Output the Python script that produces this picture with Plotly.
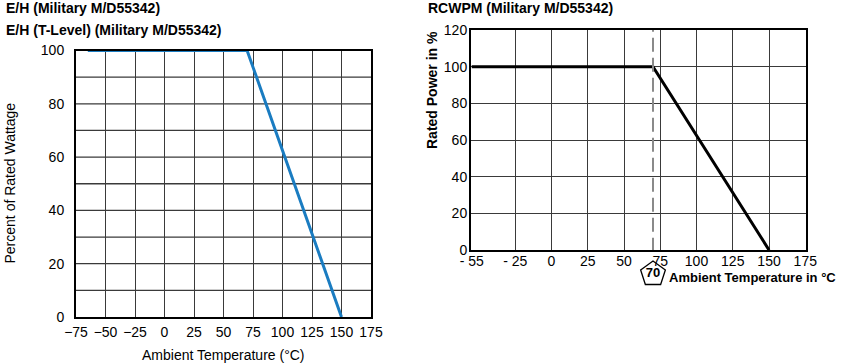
import plotly.graph_objects as go

# ---- data ----
eh_temp = [-65, 70, 150]
eh_pct = [100, 100, 0]
eh_xticks = [-75, -50, -25, 0, 25, 50, 75, 100, 125, 150, 175]
eh_yticks = [0, 20, 40, 60, 80, 100]

rc_temp = [-55, 70, 150]
rc_pct = [100, 100, 0]
rc_xticks = [-55, -25, 0, 25, 50, 75, 100, 125, 150, 175]
rc_xticktext = ["- 55", "- 25", "0", "25", "50", "75", "100", "125", "150", "175"]
rc_yticks = [0, 20, 40, 60, 80, 100, 120]
rc_knee = 70

W, H = 845, 363
FONT = "Liberation Sans, Arial, sans-serif"
RC_RANGE = [-55.5, 175.5]
RC_DOMAIN = [471 / W, 806 / W]


def px(x):
    return x / W


def py(y):
    return 1 - y / H


fig = go.Figure()

fig.add_trace(go.Scatter(x=eh_temp, y=eh_pct, mode="lines",
                         line=dict(color="#1a7cc1", width=3),
                         xaxis="x", yaxis="y", showlegend=False))

fig.add_trace(go.Scatter(x=rc_temp, y=rc_pct, mode="lines",
                         line=dict(color="black", width=3),
                         xaxis="x2", yaxis="y2", showlegend=False))

# pentagon marker for the 70 °C knee (on a hidden strip below the right chart)
fig.add_trace(go.Scatter(x=[rc_knee], y=[0.5], mode="markers+text",
                         marker=dict(symbol="pentagon-open", size=26,
                                     line=dict(color="black", width=1.3), color="black"),
                         text=[f"<b>{rc_knee}</b>"], textposition="middle center",
                         textfont=dict(size=13, color="black", family=FONT),
                         cliponaxis=False,
                         xaxis="x3", yaxis="y3", showlegend=False))

grid = "#3a3a3a"

fig.update_layout(
    width=W, height=H,
    margin=dict(l=0, r=0, t=0, b=0),
    paper_bgcolor="white", plot_bgcolor="white",
    font=dict(family=FONT, size=14, color="black"),
    xaxis=dict(domain=[px(76), px(371)], range=[-75, 175], tickvals=eh_xticks,
               showgrid=True, gridcolor=grid, gridwidth=1.3,
               showline=True, mirror=True, linecolor="black", linewidth=2,
               ticks="outside", ticklen=1, tickcolor="rgba(0,0,0,0)",
               zeroline=False, anchor="y", automargin=False,
               tickfont=dict(size=14)),
    yaxis=dict(domain=[py(317), py(50.5)], range=[0, 100], tickvals=eh_yticks,
               showgrid=False,
               showline=True, mirror=True, linecolor="black", linewidth=2,
               ticks="outside", ticklen=7, tickcolor="rgba(0,0,0,0)",
               zeroline=False, anchor="x", automargin=False,
               tickfont=dict(size=14)),
    xaxis2=dict(domain=RC_DOMAIN, range=RC_RANGE, tickvals=rc_xticks,
                ticktext=rc_xticktext,
                showgrid=True, gridcolor=grid, gridwidth=1.3,
                showline=True, mirror=True, linecolor="black", linewidth=2,
                ticks="", ticklabelstandoff=-3,
                zeroline=False, anchor="y2", automargin=False,
                tickfont=dict(size=14)),
    yaxis2=dict(domain=[py(250), py(30)], range=[0, 120], tickvals=rc_yticks,
                showgrid=True, gridcolor=grid, gridwidth=1.3,
                showline=True, mirror=True, linecolor="black", linewidth=2,
                ticks="", ticklabelstandoff=-1,
                zeroline=False, anchor="x2", automargin=False,
                tickfont=dict(size=14)),
    xaxis3=dict(domain=RC_DOMAIN, range=RC_RANGE, visible=False, showgrid=False,
                zeroline=False, anchor="y3", fixedrange=True),
    yaxis3=dict(domain=[py(291), py(257)], range=[0, 1], visible=False,
                showgrid=False, zeroline=False, anchor="x3", fixedrange=True),
)

# left chart minor horizontal grid every 10
shapes = []
for v in range(10, 100, 10):
    shapes.append(dict(type="line", xref="x domain", yref="y", x0=0, x1=1, y0=v, y1=v,
                       line=dict(color=grid, width=1.3), layer="below"))
# dashed knee line
shapes.append(dict(type="line", xref="x2", yref="y2", x0=rc_knee, x1=rc_knee, y0=-1, y1=120,
                   line=dict(color="#8a8a8a", width=2, dash="14px,6px"), layer="above"))
fig.update_layout(shapes=shapes)

ann = [
    dict(text="<b>E/H (Military M/D55342)</b>", x=px(4), y=py(8), xanchor="left", yanchor="middle", font=dict(size=14)),
    dict(text="<b>E/H (T-Level) (Military M/D55342)</b>", x=px(4), y=py(30), xanchor="left", yanchor="middle", font=dict(size=14)),
    dict(text="<b>RCWPM (Military M/D55342)</b>", x=px(426), y=py(8), xanchor="left", yanchor="middle", font=dict(size=14)),
    dict(text="Percent of Rated Wattage", x=px(10), y=py(183.5), textangle=-90, xanchor="center", yanchor="middle", font=dict(size=14)),
    dict(text="Ambient Temperature (°C)", x=px(223.5), y=py(355), xanchor="center", yanchor="middle", font=dict(size=14)),
    dict(text="<b>Rated Power in %</b>", x=px(432), y=py(90), textangle=-90, xanchor="center", yanchor="middle", font=dict(size=14)),
    dict(text="<b>Ambient Temperature in °C</b>", x=px(667), y=py(277), xanchor="left", yanchor="middle", font=dict(size=13)),
]
for a in ann:
    a.update(xref="paper", yref="paper", showarrow=False)
fig.update_layout(annotations=ann)

fig.write_html("out.html", config={"displayModeBar": False},
               post_script="document.body.style.margin='0';document.body.style.overflow='hidden';")
